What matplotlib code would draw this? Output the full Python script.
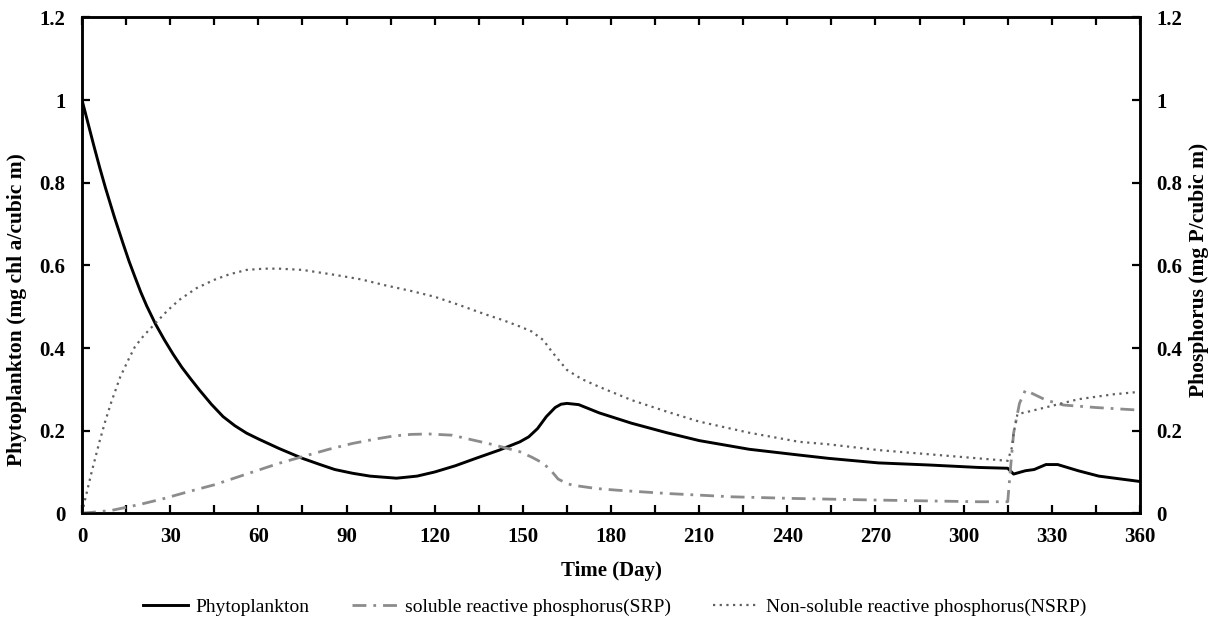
import numpy as np
import matplotlib
matplotlib.use('Agg')
import matplotlib.pyplot as plt
from matplotlib.ticker import MultipleLocator, FuncFormatter

plt.rcParams['font.family'] = ['Liberation Serif', 'DejaVu Serif']

# Phytoplankton (mg chl a/cubic m)
phyto_day = [0, 2, 4, 6, 8, 11, 14, 16, 18, 20, 22, 25, 28, 31, 34, 37, 40, 44, 48,
             52, 56, 60, 67, 75, 81, 86, 92, 98, 107, 114, 120, 127, 134, 142, 149,
             152, 155, 158, 161, 163, 165, 169, 176, 187, 199, 210, 227, 244, 254,
             271, 288, 305, 315, 317, 321, 324, 328, 332, 339, 346, 360]
phyto_val = [1.0, 0.945, 0.89, 0.837, 0.787, 0.717, 0.652, 0.61, 0.572, 0.535, 0.502,
             0.458, 0.42, 0.385, 0.353, 0.325, 0.298, 0.264, 0.234, 0.212, 0.194,
             0.18, 0.157, 0.133, 0.118, 0.106, 0.097, 0.090, 0.085, 0.09, 0.10,
             0.115, 0.133, 0.153, 0.173, 0.185, 0.205, 0.234, 0.256, 0.264, 0.266,
             0.263, 0.243, 0.218, 0.195, 0.176, 0.155, 0.141, 0.133, 0.122, 0.117,
             0.111, 0.109, 0.095, 0.103, 0.106, 0.118, 0.118, 0.103, 0.09, 0.077]

# soluble reactive phosphorus (mg P/cubic m)
srp_day = [0, 10, 20, 28, 36, 45, 56, 67, 75, 84, 92, 100, 106, 112, 118, 126, 132,
           140, 149, 153, 157, 160, 162, 165, 167, 175, 182, 199, 221, 242, 271, 305,
           315, 316, 317, 319, 321, 328, 334, 345, 359]
srp_val = [0, 0.007, 0.022, 0.036, 0.052, 0.069, 0.095, 0.121, 0.137, 0.155, 0.169,
           0.180, 0.187, 0.191, 0.192, 0.189, 0.179, 0.166, 0.149, 0.136, 0.121,
           0.100, 0.083, 0.072, 0.068, 0.060, 0.056, 0.048, 0.040, 0.036, 0.032,
           0.028, 0.028, 0.113, 0.194, 0.266, 0.298, 0.274, 0.262, 0.256, 0.25]

# non-soluble reactive phosphorus (mg P/cubic m)
nsrp_day = [0, 1, 2, 3, 4, 6, 8, 10, 13, 16, 18, 21, 25, 29, 33, 39, 45, 50, 56, 62,
            67, 75, 86, 95, 103, 112, 120, 128, 137, 143, 149, 153, 157, 160, 165,
            170, 176, 187, 199, 210, 227, 244, 254, 271, 288, 305, 315, 316.5, 317,
            318.3, 322, 330, 339, 351, 360]
nsrp_val = [0, 0.032, 0.062, 0.092, 0.12, 0.175, 0.225, 0.27, 0.33, 0.375, 0.403,
            0.43, 0.46, 0.49, 0.516, 0.545, 0.565, 0.578, 0.589, 0.592, 0.592, 0.589,
            0.577, 0.566, 0.552, 0.538, 0.524, 0.505, 0.482, 0.468, 0.452, 0.44,
            0.419, 0.39, 0.347, 0.325, 0.306, 0.274, 0.246, 0.222, 0.195, 0.173,
            0.167, 0.153, 0.143, 0.133, 0.127, 0.161, 0.194, 0.240, 0.246, 0.26,
            0.276, 0.288, 0.294]

fig = plt.figure(figsize=(12.17, 6.21), dpi=100)
ax = fig.add_axes([0.0674, 0.1734, 0.8693, 0.7986])
ax2 = ax.twinx()

l1, = ax.plot(phyto_day, phyto_val, color='black', lw=2.1, label='Phytoplankton')
l2, = ax2.plot(srp_day, srp_val, color='#8c8c8c', lw=2.0, linestyle=(0, (5, 2.5, 1, 2.5)),
               label='soluble reactive phosphorus(SRP)')
l3, = ax2.plot(nsrp_day, nsrp_val, color='#606060', lw=1.6, linestyle=(0, (1, 2)),
               label='Non-soluble reactive phosphorus(NSRP)')

fmt = FuncFormatter(lambda v, p: ('%g' % round(v, 2)))
for a in (ax, ax2):
    a.set_xlim(0, 360)
    a.set_ylim(0, 1.2)
    a.yaxis.set_major_locator(MultipleLocator(0.2))
    a.yaxis.set_major_formatter(fmt)
    for s in a.spines.values():
        s.set_linewidth(1.8)

ax.xaxis.set_major_locator(MultipleLocator(30))
ax.xaxis.set_minor_locator(MultipleLocator(15))
ax.tick_params(axis='x', which='both', direction='in', top=True, length=6, width=1.6, pad=10)
ax.tick_params(axis='y', direction='in', length=6, width=1.6, pad=12)
ax2.tick_params(axis='y', direction='in', length=6, width=1.6, pad=12)

for a in (ax, ax2):
    for lab in a.get_xticklabels() + a.get_yticklabels():
        lab.set_fontsize(15)
        lab.set_fontweight('bold')

ax.set_xlabel('Time (Day)', fontsize=15, fontweight='bold')
ax.xaxis.set_label_coords(0.5, -0.096)
ax.set_ylabel('Phytoplankton (mg chl a/cubic m)', fontsize=15.5, fontweight='bold')
ax.yaxis.set_label_coords(-0.052, 0.41)
ax2.set_ylabel('Phosphorus (mg P/cubic m)', fontsize=15.5, fontweight='bold')
ax2.yaxis.set_label_coords(1.046, 0.49)

fig.legend(handles=[l1, l2, l3], loc='center', bbox_to_anchor=(0.505, 0.022), ncol=3,
           frameon=False, fontsize=14, handlelength=2.3, handletextpad=0.4,
           columnspacing=2.2)

fig.savefig('out.png', dpi=100)
